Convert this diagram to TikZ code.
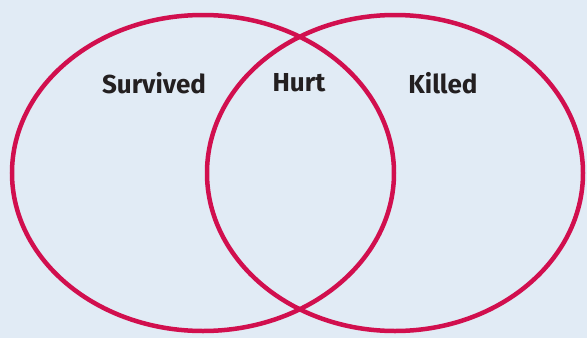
\documentclass[tikz,border=0pt]{standalone}
\usepackage{fontspec}
\newfontfamily\lblfont{Fira Sans}[UprightFont={* Bold}]
\definecolor{bgc}{HTML}{E1EBF5}
\definecolor{ringc}{HTML}{D10F4E}
\definecolor{txt}{HTML}{231F20}
\begin{document}
\begin{tikzpicture}[x=1pt,y=-1pt,
  ring/.style={draw=ringc,line width=4.5pt},
  lbl/.style={font=\lblfont\fontsize{26}{29}\selectfont,text=txt,inner sep=0pt}]
\fill[bgc] (0,0) rectangle (587,338);
\useasboundingbox (0,0) rectangle (587,338);
\draw[ring] (203,173) ellipse [x radius=191, y radius=158];
\draw[ring] (395,173) ellipse [x radius=188, y radius=158];
\node[lbl] (survived) at (154,83) {Survived};
\node[lbl] (hurt) at (299,83) {Hurt};
\node[lbl] (killed) at (443,83) {Killed};
\end{tikzpicture}
\end{document}
